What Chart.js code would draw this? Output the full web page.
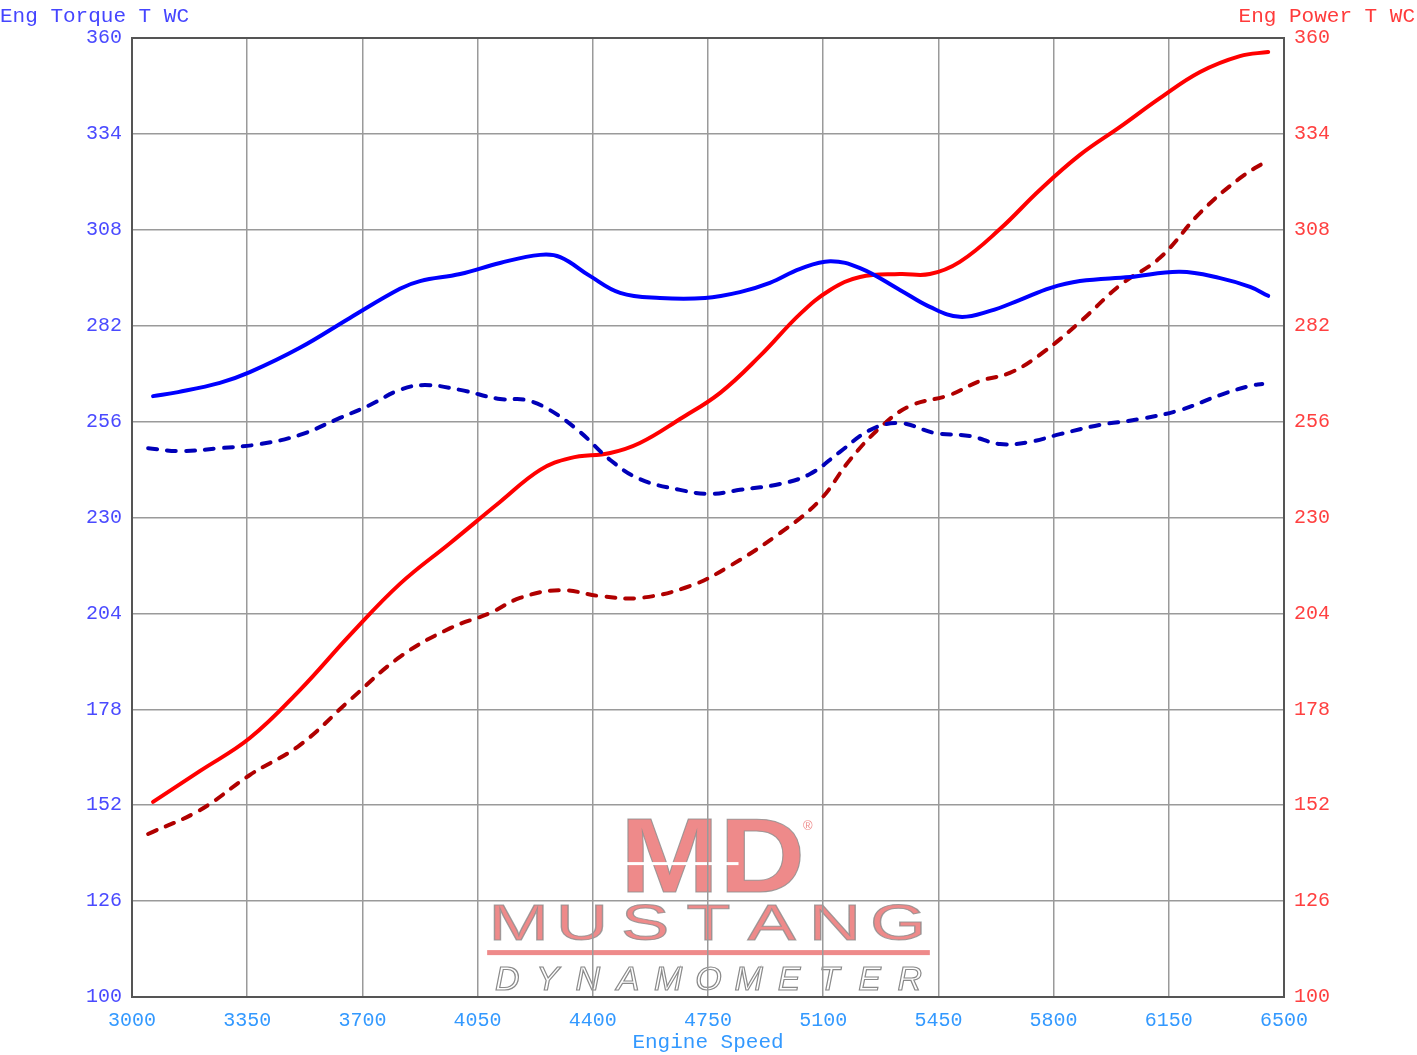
<!DOCTYPE html>
<html>
<head>
<meta charset="utf-8">
<script src="https://cdn.jsdelivr.net/npm/chart.js@4.4.1/dist/chart.umd.min.js"></script>
<style>
  html, body { margin: 0; padding: 0; background: #fff; }
  #wrap { width: 1417px; height: 1055px; position: relative; }
</style>
</head>
<body>
<div id="wrap"><canvas id="dyno"></canvas></div>
<script>
// x tick labels / axis ranges
const rpmTicks = [3000, 3350, 3700, 4050, 4400, 4750, 5100, 5450, 5800, 6150, 6500];
const yTicks = [100, 126, 152, 178, 204, 230, 256, 282, 308, 334, 360];

// run 1 torque (solid blue)
const tqRpmA = [3064, 3140, 3267, 3358, 3510, 3662, 3814, 3875, 3997, 4118, 4240, 4301, 4391, 4483, 4604, 4741, 4847, 4938, 5030, 5121, 5212, 5333, 5424, 5515, 5607, 5698, 5789, 5880, 6032, 6184, 6306, 6397, 6452];
const tqA = [262.9, 264.0, 266.5, 269.4, 276.0, 284.1, 292.0, 294.1, 296.0, 299.0, 301.2, 300.6, 295.5, 290.9, 289.5, 289.5, 291.1, 293.6, 297.4, 299.5, 297.6, 291.7, 287.1, 284.4, 286.0, 289.0, 292.2, 294.1, 295.2, 296.6, 294.9, 292.5, 290.1];

// run 2 torque (dashed blue)
const tqRpmB = [3049, 3146, 3267, 3389, 3510, 3632, 3723, 3814, 3890, 3997, 4118, 4194, 4270, 4361, 4453, 4543, 4665, 4756, 4847, 4969, 5060, 5151, 5242, 5333, 5439, 5545, 5637, 5728, 5819, 5941, 6062, 6184, 6306, 6397, 6434];
const tqB = [248.8, 248.0, 248.8, 249.9, 252.4, 257.0, 260.5, 264.6, 265.9, 264.6, 262.1, 261.9, 259.1, 253.2, 245.6, 240.4, 237.5, 236.4, 237.5, 239.1, 241.8, 247.8, 253.7, 255.6, 252.9, 252.1, 249.9, 250.5, 252.6, 255.1, 256.7, 259.1, 263.2, 265.7, 266.2];

// run 1 power (solid red)
const pwRpmA = [3064, 3207, 3358, 3510, 3662, 3814, 3967, 4118, 4240, 4331, 4453, 4543, 4665, 4787, 4908, 5030, 5121, 5212, 5333, 5424, 5515, 5637, 5758, 5880, 6002, 6123, 6245, 6366, 6452];
const pwA = [152.9, 161.3, 170.2, 183.2, 198.1, 212.0, 223.1, 234.2, 242.9, 246.1, 247.5, 250.2, 256.7, 263.8, 273.8, 285.2, 291.7, 295.2, 296.0, 296.0, 299.3, 308.2, 318.8, 328.3, 335.9, 343.7, 350.8, 355.1, 356.2];

// run 2 power (dashed dark red)
const pwRpmB = [3049, 3207, 3358, 3510, 3662, 3814, 3967, 4088, 4179, 4301, 4422, 4543, 4695, 4817, 4969, 5090, 5181, 5272, 5363, 5484, 5576, 5667, 5758, 5880, 6002, 6123, 6245, 6366, 6452];
const pwB = [144.2, 150.7, 160.2, 168.3, 180.5, 192.2, 200.0, 204.1, 208.2, 210.3, 208.7, 208.2, 211.4, 216.9, 225.8, 234.7, 245.6, 254.3, 260.2, 263.2, 267.0, 269.2, 274.1, 283.0, 293.0, 300.4, 312.6, 322.0, 326.9];

const FONT = "'Liberation Mono', 'Courier New', monospace";
const pts = (xs, ys) => xs.map((x, i) => ({ x: x, y: ys[i] }));
const PINK = "rgba(236,125,125,0.9)";

// MD watermark, drawn under the grid
const watermark = {
  id: "watermark",
  beforeDraw(chart) {
    const ctx = chart.ctx;
    const x = chart.scales.x;
    const y = chart.scales.y;
    const l = x.getPixelForValue(4483), r = x.getPixelForValue(5045);
    const left = x.getPixelForValue(4079), right = x.getPixelForValue(5424);
    const y126 = y.getPixelForValue(126);
    ctx.save();
    ctx.fillStyle = PINK;
    ctx.strokeStyle = "rgba(140,140,140,0.8)";
    ctx.lineWidth = 1;
    ctx.textBaseline = "alphabetic";

    // MD
    ctx.font = "bold 106px 'Liberation Sans', Arial, sans-serif";
    let w = ctx.measureText("MD").width;
    let base = y126 - 9;
    ctx.save();
    ctx.translate(l, base);
    ctx.scale((r - l) / w, 1);
    ctx.fillText("MD", 0, 0);
    ctx.strokeText("MD", 0, 0);
    ctx.restore();
    ctx.fillStyle = "#fff";
    ctx.fillRect(l, base - 30, (r - l) * 0.64, 3);
    ctx.fillStyle = PINK;
    ctx.font = "13px sans-serif";
    ctx.fillText("\u00AE", r - 2, base - 62);

    // MUSTANG
    ctx.font = "50px 'Liberation Sans', Arial, sans-serif";
    base = y126 + 39;
    const word = "MUSTANG";
    const step = (right - left) / word.length;
    ctx.textAlign = "center";
    for (let i = 0; i < word.length; i++) {
      ctx.save();
      ctx.translate(left + step * (i + 0.5), base);
      ctx.scale(1.45, 1);
      ctx.fillText(word[i], 0, 0);
      ctx.strokeText(word[i], 0, 0);
      ctx.restore();
    }
    ctx.fillRect(left, base + 10, right - left, 5);

    // DYNAMOMETER
    ctx.font = "italic 34px 'Liberation Sans', Arial, sans-serif";
    ctx.strokeStyle = "#8a8a8a";
    ctx.lineWidth = 1.2;
    const d = "DYNAMOMETER";
    const st = (right - left) / d.length;
    for (let i = 0; i < d.length; i++) {
      ctx.strokeText(d[i], left + st * (i + 0.5), y.getPixelForValue(100) - 7);
    }
    ctx.restore();
  },
  afterDraw(chart) {
    const ctx = chart.ctx;
    const a = chart.chartArea;
    ctx.save();
    ctx.strokeStyle = "#555";
    ctx.lineWidth = 2;
    ctx.strokeRect(a.left, a.top, a.right - a.left, a.bottom - a.top);
    ctx.font = "21px " + FONT;
    ctx.textBaseline = "alphabetic";
    ctx.fillStyle = "#4545ff";
    ctx.textAlign = "left";
    ctx.fillText("Eng Torque T WC", 0, 22);
    ctx.fillStyle = "#ff3b3b";
    ctx.textAlign = "right";
    ctx.fillText("Eng Power T WC", 1415, 22);
    ctx.restore();
  },
};

const lineStyle = {
  pointRadius: 0,
  borderWidth: 4,
  borderCapStyle: "round",
  tension: 0.4,
  fill: false,
};
const dash = [9, 10];
const plain = (v) => String(v);

new Chart(document.getElementById("dyno"), {
  type: "line",
  data: {
    datasets: [
      { ...lineStyle, label: "Torque 1", data: pts(tqRpmA, tqA), borderColor: "#0000ff", yAxisID: "y" },
      { ...lineStyle, label: "Torque 2", data: pts(tqRpmB, tqB), borderColor: "#0000b8", borderDash: dash, yAxisID: "y" },
      { ...lineStyle, label: "Power 1", data: pts(pwRpmA, pwA), borderColor: "#ff0000", yAxisID: "y1" },
      { ...lineStyle, label: "Power 2", data: pts(pwRpmB, pwB), borderColor: "#b00000", borderDash: dash, yAxisID: "y1" },
    ],
  },
  options: {
    responsive: true,
    maintainAspectRatio: false,
    animation: false,
    layout: { padding: { top: 38, left: 0, right: 0, bottom: 0 } },
    plugins: { legend: { display: false }, tooltip: { enabled: false } },
    scales: {
      x: {
        type: "linear",
        min: 3000,
        max: 6500,
        afterBuildTicks: (s) => { s.ticks = rpmTicks.map((v) => ({ value: v })); },
        afterFit: (s) => { s.height = 58; },
        ticks: { color: "#3399ff", font: { family: FONT, size: 20 }, padding: 12, maxRotation: 0, callback: plain },
        grid: { color: "#9a9a9a", lineWidth: 1.5, drawTicks: false },
        border: { color: "#555", width: 2 },
        title: { display: true, text: "Engine Speed", color: "#3399ff", font: { family: FONT, size: 21 }, padding: 0 },
      },
      y: {
        position: "left",
        min: 100,
        max: 360,
        afterBuildTicks: (s) => { s.ticks = yTicks.map((v) => ({ value: v })); },
        afterFit: (s) => { s.width = 132; },
        ticks: { color: "#4a4aff", font: { family: FONT, size: 20 }, padding: 10, callback: plain },
        grid: { color: "#9a9a9a", lineWidth: 1.5, drawTicks: false },
        border: { color: "#555", width: 2 },
      },
      y1: {
        position: "right",
        min: 100,
        max: 360,
        afterBuildTicks: (s) => { s.ticks = yTicks.map((v) => ({ value: v })); },
        afterFit: (s) => { s.width = 133; },
        ticks: { color: "#ff4040", font: { family: FONT, size: 20 }, padding: 10, callback: plain },
        grid: { drawOnChartArea: false, drawTicks: false },
        border: { color: "#555", width: 2 },
      },
    },
  },
  plugins: [watermark],
});
</script>
</body>
</html>
